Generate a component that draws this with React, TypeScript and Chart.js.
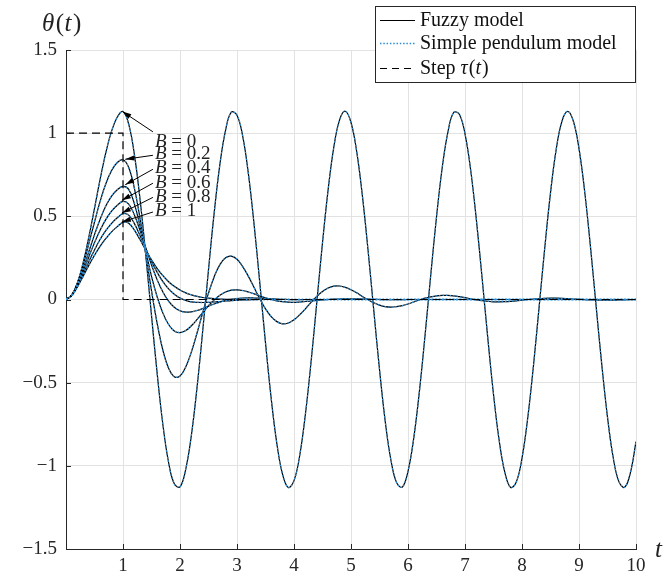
import React, { useEffect, useRef } from 'react';
import { Chart, registerables } from 'chart.js';

Chart.register(...registerables);

// ---------- data ----------
const times = [
  0, 0.1, 0.2, 0.3, 0.4, 0.5, 0.6, 0.7, 0.8, 0.9,
  1, 1.1, 1.2, 1.3, 1.4, 1.5, 1.6, 1.7, 1.8, 1.9,
  2, 2.1, 2.2, 2.3, 2.4, 2.5, 2.6, 2.7, 2.8, 2.9,
  3, 3.1, 3.2, 3.3, 3.4, 3.5, 3.6, 3.7, 3.8, 3.9,
  4, 4.1, 4.2, 4.3, 4.4, 4.5, 4.6, 4.7, 4.8, 4.9,
  5, 5.1, 5.2, 5.3, 5.4, 5.5, 5.6, 5.7, 5.8, 5.9,
  6, 6.1, 6.2, 6.3, 6.4, 6.5, 6.6, 6.7, 6.8, 6.9,
  7, 7.1, 7.2, 7.3, 7.4, 7.5, 7.6, 7.7, 7.8, 7.9,
  8, 8.1, 8.2, 8.3, 8.4, 8.5, 8.6, 8.7, 8.8, 8.9,
  9, 9.1, 9.2, 9.3, 9.4, 9.5, 9.6, 9.7, 9.8, 9.9,
  10,
];

const thetaB0 = [
  0, 0.026, 0.100, 0.220, 0.375, 0.548, 0.725, 0.885, 1.012, 1.097,
  1.130, 1.054, 0.871, 0.599, 0.265, -0.096, -0.447, -0.753, -0.980, -1.108,
  -1.126, -1.021, -0.815, -0.525, -0.183, 0.179, 0.522, 0.812, 1.019, 1.126,
  1.108, 0.982, 0.755, 0.450, 0.100, -0.261, -0.595, -0.868, -1.052, -1.130,
  -1.089, -0.938, -0.690, -0.373, -0.017, 0.341, 0.664, 0.919, 1.080, 1.132,
  1.064, 0.889, 0.623, 0.293, -0.067, -0.420, -0.731, -0.965, -1.101, -1.128,
  -1.033, -0.835, -0.552, -0.212, 0.150, 0.496, 0.792, 1.006, 1.124, 1.114,
  0.996, 0.777, 0.477, 0.129, -0.232, -0.570, -0.849, -1.041, -1.130, -1.097,
  -0.954, -0.714, -0.401, -0.046, 0.313, 0.641, 0.902, 1.071, 1.131, 1.073,
  0.907, 0.648, 0.321, -0.038, -0.393, -0.707, -0.950, -1.095, -1.129, -1.044,
  -0.855,
];

const thetaB02 = [
  0, 0.027, 0.100, 0.207, 0.334, 0.466, 0.591, 0.697, 0.776, 0.824,
  0.840, 0.794, 0.668, 0.485, 0.271, 0.053, -0.145, -0.305, -0.413, -0.464,
  -0.460, -0.406, -0.315, -0.200, -0.078, 0.038, 0.137, 0.210, 0.251, 0.261,
  0.242, 0.198, 0.139, 0.072, 0.004, -0.056, -0.103, -0.133, -0.146, -0.141,
  -0.122, -0.092, -0.056, -0.017, 0.018, 0.048, 0.069, 0.080, 0.081, 0.073,
  0.059, 0.040, 0.018, -0.002, -0.020, -0.034, -0.043, -0.046, -0.043, -0.037,
  -0.027, -0.015, -0.003, 0.008, 0.016, 0.022, 0.025, 0.025, 0.022, 0.017,
  0.011, 0.004, -0.002, -0.007, -0.011, -0.014, -0.014, -0.013, -0.011, -0.008,
  -0.004, 0.000, 0.003, 0.005, 0.007, 0.008, 0.008, 0.007, 0.005, 0.003,
  0.001, -0.001, -0.002, -0.003, -0.004, -0.004, -0.004, -0.003, -0.002, -0.001,
  0.000,
];

const thetaB04 = [
  0, 0.025, 0.091, 0.183, 0.287, 0.390, 0.484, 0.563, 0.622, 0.660,
  0.680, 0.662, 0.575, 0.440, 0.290, 0.139, 0.015, -0.082, -0.150, -0.189,
  -0.199, -0.187, -0.158, -0.120, -0.078, -0.038, -0.002, 0.026, 0.045, 0.056,
  0.058, 0.054, 0.045, 0.034, 0.022, 0.010, 0.000, -0.008, -0.013, -0.016,
  -0.017, -0.015, -0.012, -0.009, -0.005, -0.002, 0.000, 0.002, 0.003, 0.004,
  0.004, 0.004, 0.003, 0.002, 0.001, 0.000, -0.001, -0.001, -0.001, -0.001,
  0, 0, 0, 0, 0, 0, 0, 0, 0, 0,
  0, 0, 0, 0, 0, 0, 0, 0, 0, 0,
  0, 0, 0, 0, 0, 0, 0, 0, 0, 0,
  0, 0, 0, 0, 0, 0, 0, 0, 0, 0,
  0,
];

const thetaB06 = [
  0, 0.025, 0.086, 0.167, 0.256, 0.342, 0.418, 0.482, 0.531, 0.567,
  0.590, 0.574, 0.508, 0.414, 0.310, 0.208, 0.118, 0.045, -0.010, -0.047,
  -0.068, -0.076, -0.074, -0.066, -0.054, -0.040, -0.027, -0.016, -0.006, 0.001,
  0.006, 0.009, 0.010, 0.009, 0.008, 0.006, 0.004, 0.002, 0.001, 0.000,
  -0.001, -0.001, 0, 0, 0, 0, 0, 0, 0, 0,
  0, 0, 0, 0, 0, 0, 0, 0, 0, 0,
  0, 0, 0, 0, 0, 0, 0, 0, 0, 0,
  0, 0, 0, 0, 0, 0, 0, 0, 0, 0,
  0, 0, 0, 0, 0, 0, 0, 0, 0, 0,
  0, 0, 0, 0, 0, 0, 0, 0, 0, 0,
  0,
];

const thetaB08 = [
  0, 0.024, 0.080, 0.152, 0.227, 0.298, 0.362, 0.415, 0.458, 0.491,
  0.516, 0.507, 0.456, 0.383, 0.305, 0.229, 0.163, 0.107, 0.064, 0.032,
  0.009, -0.005, -0.014, -0.017, -0.018, -0.017, -0.015, -0.012, -0.009, -0.007,
  -0.005, -0.003, -0.002, -0.001, 0, 0, 0, 0, 0, 0,
  0, 0, 0, 0, 0, 0, 0, 0, 0, 0,
  0, 0, 0, 0, 0, 0, 0, 0, 0, 0,
  0, 0, 0, 0, 0, 0, 0, 0, 0, 0,
  0, 0, 0, 0, 0, 0, 0, 0, 0, 0,
  0, 0, 0, 0, 0, 0, 0, 0, 0, 0,
  0, 0, 0, 0, 0, 0, 0, 0, 0, 0,
  0,
];

const thetaB1 = [
  0, 0.023, 0.075, 0.139, 0.205, 0.266, 0.321, 0.367, 0.407, 0.438,
  0.464, 0.459, 0.417, 0.359, 0.297, 0.238, 0.186, 0.143, 0.107, 0.079,
  0.057, 0.040, 0.028, 0.019, 0.012, 0.008, 0.005, 0.003, 0.001, 0.001,
  0, 0, 0, 0, 0, 0, 0, 0, 0, 0,
  0, 0, 0, 0, 0, 0, 0, 0, 0, 0,
  0, 0, 0, 0, 0, 0, 0, 0, 0, 0,
  0, 0, 0, 0, 0, 0, 0, 0, 0, 0,
  0, 0, 0, 0, 0, 0, 0, 0, 0, 0,
  0, 0, 0, 0, 0, 0, 0, 0, 0, 0,
  0, 0, 0, 0, 0, 0, 0, 0, 0, 0,
  0,
];

const dampingLabels = ['0', '0.2', '0.4', '0.6', '0.8', '1'];
const seriesList = [thetaB0, thetaB02, thetaB04, thetaB06, thetaB08, thetaB1];

const stepTimes = [0, 1, 1, 10];
const stepValues = [1, 1, 0, 0];

const xTickValues = [1, 2, 3, 4, 5, 6, 7, 8, 9, 10];
const yTickValues = [-1.5, -1, -0.5, 0, 0.5, 1, 1.5];

const legendLabels = ['Fuzzy model', 'Simple pendulum model', 'Step'];

// annotation arrows (data coordinates): tail near label, head on curve at t≈1
const annotationHeads = [
  [0.99, 1.13], [1.04, 0.843], [1.04, 0.69], [0.98, 0.596], [0.98, 0.52], [0.98, 0.466],
];
const annotationTails = [
  [1.525, 1.008], [1.525, 0.867], [1.525, 0.783], [1.525, 0.699], [1.525, 0.614], [1.525, 0.526],
];
const annotationTextPos = [
  [1.56, 0.945], [1.56, 0.872], [1.56, 0.788], [1.56, 0.703], [1.56, 0.618], [1.56, 0.53],
];

// ---------- styles ----------
const SERIF = "'Liberation Serif', 'Times New Roman', serif";
const AXIS_COLOR = '#262626';
const GRID_COLOR = '#e2e2e2';
const FUZZY_COLOR = '#000000';
const SIMPLE_COLOR = '#2a8fd8';

const overlayPlugin = {
  id: 'overlay',
  afterDatasetsDraw(chart: any) {
    const ctx = chart.ctx as CanvasRenderingContext2D;
    const xs = chart.scales.x;
    const ys = chart.scales.y;
    const area = chart.chartArea;
    ctx.save();

    // inward tick marks
    ctx.strokeStyle = AXIS_COLOR;
    ctx.lineWidth = 1;
    ctx.beginPath();
    xTickValues.forEach((v) => {
      const px = Math.round(xs.getPixelForValue(v)) + 0.5;
      ctx.moveTo(px, area.bottom);
      ctx.lineTo(px, area.bottom - 5);
    });
    yTickValues.forEach((v) => {
      const py = Math.round(ys.getPixelForValue(v)) + 0.5;
      ctx.moveTo(area.left, py);
      ctx.lineTo(area.left + 5, py);
    });
    ctx.stroke();

    // annotations
    ctx.lineWidth = 1;
    annotationHeads.forEach((h, i) => {
      const hx = xs.getPixelForValue(h[0]);
      const hy = ys.getPixelForValue(h[1]);
      const tx = xs.getPixelForValue(annotationTails[i][0]);
      const ty = ys.getPixelForValue(annotationTails[i][1]);
      ctx.strokeStyle = '#000';
      ctx.fillStyle = '#000';
      ctx.beginPath();
      ctx.moveTo(tx, ty);
      ctx.lineTo(hx, hy);
      ctx.stroke();
      const ang = Math.atan2(hy - ty, hx - tx);
      const len = 9;
      const hw = 2.6;
      ctx.beginPath();
      ctx.moveTo(hx, hy);
      ctx.lineTo(hx - len * Math.cos(ang) + hw * Math.sin(ang), hy - len * Math.sin(ang) - hw * Math.cos(ang));
      ctx.lineTo(hx - len * Math.cos(ang) - hw * Math.sin(ang), hy - len * Math.sin(ang) + hw * Math.cos(ang));
      ctx.closePath();
      ctx.fill();

      const lx = xs.getPixelForValue(annotationTextPos[i][0]);
      const ly = ys.getPixelForValue(annotationTextPos[i][1]);
      ctx.textBaseline = 'middle';
      ctx.textAlign = 'left';
      ctx.fillStyle = '#222';
      ctx.font = `italic 19px ${SERIF}`;
      ctx.fillText('B', lx, ly);
      const bw = ctx.measureText('B').width;
      ctx.font = `19px ${SERIF}`;
      ctx.fillText(' = ' + dampingLabels[i], lx + bw, ly);
    });

    // axis titles
    ctx.fillStyle = '#222';
    ctx.textBaseline = 'alphabetic';
    ctx.textAlign = 'left';
    let x = 42;
    const yb = 31;
    const parts: [string, boolean][] = [['θ', true], ['(', false], ['t', true], [')', false]];
    parts.forEach(([s, it]) => {
      ctx.font = `${it ? 'italic ' : ''}25px ${SERIF}`;
      ctx.fillText(s, x, yb);
      x += ctx.measureText(s).width + (it ? 1.5 : 0.5);
    });
    ctx.font = `italic 25px ${SERIF}`;
    ctx.fillText('t', 655, 557);

    // legend
    const lx0 = 375.5, ly0 = 6.5, lw = 260, lh = 76;
    ctx.fillStyle = '#fff';
    ctx.fillRect(lx0, ly0, lw, lh);
    ctx.strokeStyle = AXIS_COLOR;
    ctx.lineWidth = 1;
    ctx.strokeRect(lx0, ly0, lw, lh);
    const rows = [20.5, 43.5, 68.5];
    ctx.setLineDash([]);
    ctx.strokeStyle = FUZZY_COLOR;
    ctx.lineWidth = 1.2;
    ctx.beginPath(); ctx.moveTo(380, rows[0]); ctx.lineTo(415, rows[0]); ctx.stroke();
    ctx.setLineDash([1.5, 1.8]);
    ctx.strokeStyle = SIMPLE_COLOR;
    ctx.lineWidth = 1.5;
    ctx.beginPath(); ctx.moveTo(380, rows[1]); ctx.lineTo(415, rows[1]); ctx.stroke();
    ctx.setLineDash([7, 5]);
    ctx.strokeStyle = '#000';
    ctx.lineWidth = 1.2;
    ctx.beginPath(); ctx.moveTo(380, rows[2]); ctx.lineTo(415, rows[2]); ctx.stroke();
    ctx.setLineDash([]);

    ctx.fillStyle = '#111';
    ctx.textBaseline = 'middle';
    ctx.font = `20px ${SERIF}`;
    ctx.fillText(legendLabels[0], 420, rows[0]);
    ctx.fillText(legendLabels[1], 420, rows[1]);
    let sx = 420;
    ctx.fillText(legendLabels[2] + ' ', sx, rows[2]);
    sx += ctx.measureText(legendLabels[2] + ' ').width;
    const stepParts: [string, boolean][] = [['τ', true], ['(', false], ['t', true], [')', false]];
    stepParts.forEach(([s, it]) => {
      ctx.font = `${it ? 'italic ' : ''}20px ${SERIF}`;
      ctx.fillText(s, sx, rows[2]);
      sx += ctx.measureText(s).width + (it ? 1 : 0);
    });

    ctx.restore();
  },
};

export default function App() {
  const canvasRef = useRef<HTMLCanvasElement | null>(null);

  useEffect(() => {
    document.body.style.margin = '0';
    const canvas = canvasRef.current;
    if (!canvas) return;

    const datasets: any[] = [];
    seriesList.forEach((arr, i) => {
      datasets.push({
        label: 'Fuzzy B=' + dampingLabels[i],
        data: times.map((t, k) => ({ x: t, y: arr[k] })),
        borderColor: FUZZY_COLOR,
        borderWidth: 1.2,
        pointRadius: 0,
        tension: 0.4,
        order: 2,
      });
    });
    seriesList.forEach((arr, i) => {
      datasets.push({
        label: 'Simple B=' + dampingLabels[i],
        data: times.map((t, k) => ({ x: t, y: arr[k] })),
        borderColor: SIMPLE_COLOR,
        borderWidth: 1.3,
        borderDash: [1.5, 2],
        pointRadius: 0,
        tension: 0.4,
        order: 1,
      });
    });
    datasets.push({
      label: 'Step',
      data: stepTimes.map((t, k) => ({ x: t, y: stepValues[k] })),
      borderColor: '#000',
      borderWidth: 1.2,
      borderDash: [8, 5],
      pointRadius: 0,
      tension: 0,
      order: 0,
    });

    const chart = new Chart(canvas, {
      type: 'line',
      data: { datasets },
      options: {
        responsive: false,
        animation: false,
        layout: { padding: { top: 50, right: 28, left: 0, bottom: 0 } },
        plugins: { legend: { display: false }, tooltip: { enabled: false } },
        scales: {
          x: {
            type: 'linear',
            min: 0,
            max: 10,
            afterFit: (s: any) => { s.height = 28; },
            afterBuildTicks: (s: any) => { s.ticks = xTickValues.map((v) => ({ value: v })); },
            grid: { color: GRID_COLOR, drawTicks: false, lineWidth: 1 },
            border: { display: true, color: AXIS_COLOR, width: 1 },
            ticks: {
              color: AXIS_COLOR,
              font: { family: SERIF, size: 19 },
              padding: 6,
              maxRotation: 0,
              autoSkip: false,
              callback: (v: any) => String(v),
            },
          },
          y: {
            type: 'linear',
            min: -1.5,
            max: 1.5,
            afterFit: (s: any) => { s.width = 66; },
            afterBuildTicks: (s: any) => { s.ticks = yTickValues.map((v) => ({ value: v })); },
            grid: { color: GRID_COLOR, drawTicks: false, lineWidth: 1 },
            border: { display: true, color: AXIS_COLOR, width: 1 },
            ticks: {
              color: AXIS_COLOR,
              font: { family: SERIF, size: 19 },
              padding: 9,
              autoSkip: false,
              callback: (v: any) => (v < 0 ? '\u2212' + String(Math.abs(v)) : String(v)),
            },
          },
        },
      },
      plugins: [overlayPlugin],
    });

    return () => chart.destroy();
  }, []);

  return (
    <div style={{ width: 664, height: 577, background: '#fff' }}>
      <canvas ref={canvasRef} width={664} height={577} style={{ display: 'block' }} />
    </div>
  );
}
